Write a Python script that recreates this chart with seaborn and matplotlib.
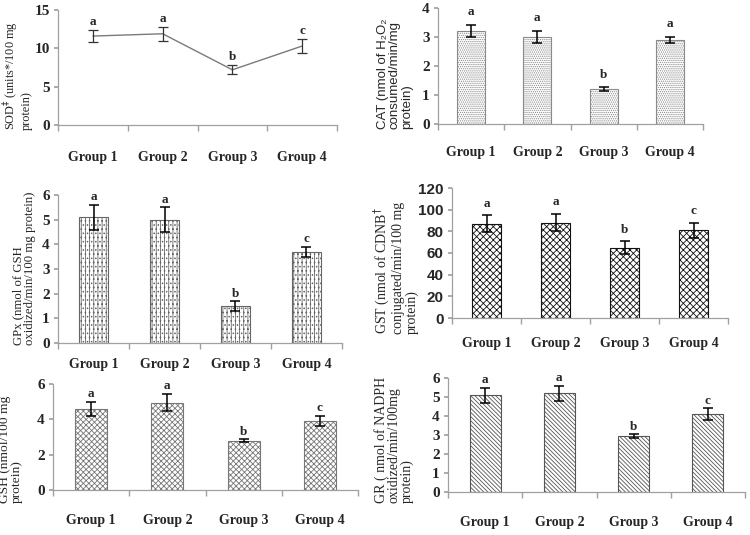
import matplotlib
matplotlib.use("Agg")
import matplotlib.pyplot as plt
import seaborn as sns
import pandas as pd
import numpy as np

groups = ["Group 1", "Group 2", "Group 3", "Group 4"]

sod_mean = [11.6, 11.9, 7.2, 10.3]
sod_err = [0.8, 0.9, 0.6, 0.9]
sod_sig = ["a", "a", "b", "c"]

cat_mean = [3.2, 3.0, 1.2, 2.9]
cat_err = [0.2, 0.2, 0.06, 0.1]
cat_sig = ["a", "a", "b", "a"]

gpx_mean = [5.1, 5.0, 1.5, 3.7]
gpx_err = [0.5, 0.5, 0.2, 0.2]
gpx_sig = ["a", "a", "b", "c"]

gst_mean = [87, 88, 65, 81]
gst_err = [8, 8, 6, 7]
gst_sig = ["a", "a", "b", "c"]

gsh_mean = [4.6, 4.95, 2.8, 3.9]
gsh_err = [0.4, 0.5, 0.08, 0.3]
gsh_sig = ["a", "a", "b", "c"]

gr_mean = [5.1, 5.2, 2.95, 4.1]
gr_err = [0.4, 0.4, 0.1, 0.3]
gr_sig = ["a", "a", "b", "c"]

sns.set_theme(style="white")
plt.rcParams["font.family"] = ["Liberation Serif", "DejaVu Serif"]
plt.rcParams["hatch.linewidth"] = 0.6

W, H = 750, 535
fig = plt.figure(figsize=(7.5, 5.35), dpi=100)
fig.patch.set_facecolor("white")

SPINE = "#a0a0a0"
SERIF = ["Liberation Serif", "DejaVu Serif"]
SANS = ["Liberation Sans", "DejaVu Sans"]


def make_ax(left, right, top, bottom):
    ax = fig.add_axes([left / W, 1 - bottom / H, (right - left) / W, (bottom - top) / H])
    ax.patch.set_alpha(0)
    return ax


def style(ax, ymax, step, pad, tickfont=SERIF):
    ax.set_xlim(-0.5, 3.5)
    ax.set_ylim(0, ymax)
    ax.set_yticks(np.arange(0, ymax + 0.001, step))
    for s in ["top", "right"]:
        ax.spines[s].set_visible(False)
    for s in ["left", "bottom"]:
        ax.spines[s].set_color(SPINE)
        ax.spines[s].set_linewidth(0.9)
    ax.set_xticks(range(4))
    ax.set_xticklabels(groups, fontsize=10, fontweight="bold", family=SERIF)
    ax.set_xticks([-0.5, 0.5, 1.5, 2.5, 3.5], minor=True)
    ax.tick_params(axis="x", which="major", length=0, pad=pad)
    ax.tick_params(axis="x", which="minor", length=4, color=SPINE, direction="out", bottom=True)
    ax.tick_params(axis="y", length=3, color=SPINE, direction="out", left=True, pad=3)
    for t in ax.get_yticklabels():
        t.set_fontsize(11)
        t.set_fontweight("bold")
        t.set_family(tickfont)
    ax.set_xlabel("")
    ax.set_ylabel("")
    ax.grid(False)


def letters(ax, means, errs, sig, off=2.5):
    for i, (m, e, s) in enumerate(zip(means, errs, sig)):
        ax.annotate(s, (i, m + e), xytext=(0, off), textcoords="offset points",
                    ha="center", va="bottom", fontsize=9.5, fontweight="bold", family=SERIF)


def bars(ax, means, errs, hatch, hcolor):
    df = pd.DataFrame({"group": groups, "value": means})
    sns.barplot(data=df, x="group", y="value", ax=ax, color="white", width=0.42,
                edgecolor=hcolor, linewidth=0.8, errorbar=None)
    for p in ax.patches:
        p.set_hatch(hatch)
        p.set_facecolor("white")
        p.set_edgecolor(hcolor)
    ax.errorbar(range(4), means, yerr=errs, fmt="none", ecolor="black", elinewidth=1.1,
                capsize=3.5, capthick=1.1, zorder=5)


def ylab(x, y, text, family=SERIF, size=8):
    fig.text(x / W, 1 - y / H, text, rotation=90, ha="center", va="bottom",
             multialignment="left", fontsize=size, family=family, linespacing=1.0)


# Panel 1: SOD (line)
ax1 = make_ax(58, 337, 10, 125)
sod_df = pd.DataFrame({"group": groups, "value": sod_mean})
sns.lineplot(data=sod_df, x="group", y="value", ax=ax1, color="#7a7a7a", linewidth=1.0, sort=False)
ax1.errorbar(range(4), sod_mean, yerr=sod_err, fmt="none", ecolor="#333333", elinewidth=0.9,
             capsize=3.5, capthick=0.9, zorder=5)
style(ax1, 15, 5, 19)
letters(ax1, sod_mean, sod_err, sod_sig, off=1.5)
ylab(17, 130, "SOD$^{\u2021}$ (units*/100 mg\nprotein)", size=8.8)

# Panel 2: CAT
ax2 = make_ax(438, 703, 8, 124)
bars(ax2, cat_mean, cat_err, "........", "#8a8a8a")
style(ax2, 4, 1, 16)
letters(ax2, cat_mean, cat_err, cat_sig, off=5)
ylab(395, 129, "CAT (nmol of H\u2082O\u2082\nconsumed/min/mg\nprotein)", family=SANS, size=9.5)

# Panel 3: GPx
ax3 = make_ax(58, 342, 195, 343)
bars(ax3, gpx_mean, gpx_err, "||||....", "#666666")
style(ax3, 6, 1, 11)
letters(ax3, gpx_mean, gpx_err, gpx_sig, off=1)
ylab(24, 345, "GPx (nmol of GSH\noxidized/min/100 mg protein)", size=9.2)

# Panel 4: GST
ax4 = make_ax(452, 728, 188, 318)
bars(ax4, gst_mean, gst_err, "xxxxx", "#111111")
style(ax4, 120, 20, 14, tickfont=SANS)
letters(ax4, gst_mean, gst_err, gst_sig, off=4)
ylab(395, 334, "GST (nmol of CDNB$^{\u2020}$\nconjugated/min/100 mg\nprotein)", size=10)

# Panel 5: GSH
ax5 = make_ax(53, 358, 384, 490)
bars(ax5, gsh_mean, gsh_err, "xxxxxx", "#777777")
style(ax5, 6, 2, 17)
letters(ax5, gsh_mean, gsh_err, gsh_sig, off=1)
ylab(11, 503, "GSH (nmol/100 mg\nprotein)", size=9.7)

# Panel 6: GR
ax6 = make_ax(448, 745, 378, 492)
bars(ax6, gr_mean, gr_err, "\\\\\\\\\\\\\\\\", "#555555")
style(ax6, 6, 1, 17)
letters(ax6, gr_mean, gr_err, gr_sig, off=1)
ylab(394, 503, "GR ( nmol of NADPH\noxidized/min/100mg\nprotein)", size=10)

fig.savefig("out.png", dpi=100, facecolor="white")
